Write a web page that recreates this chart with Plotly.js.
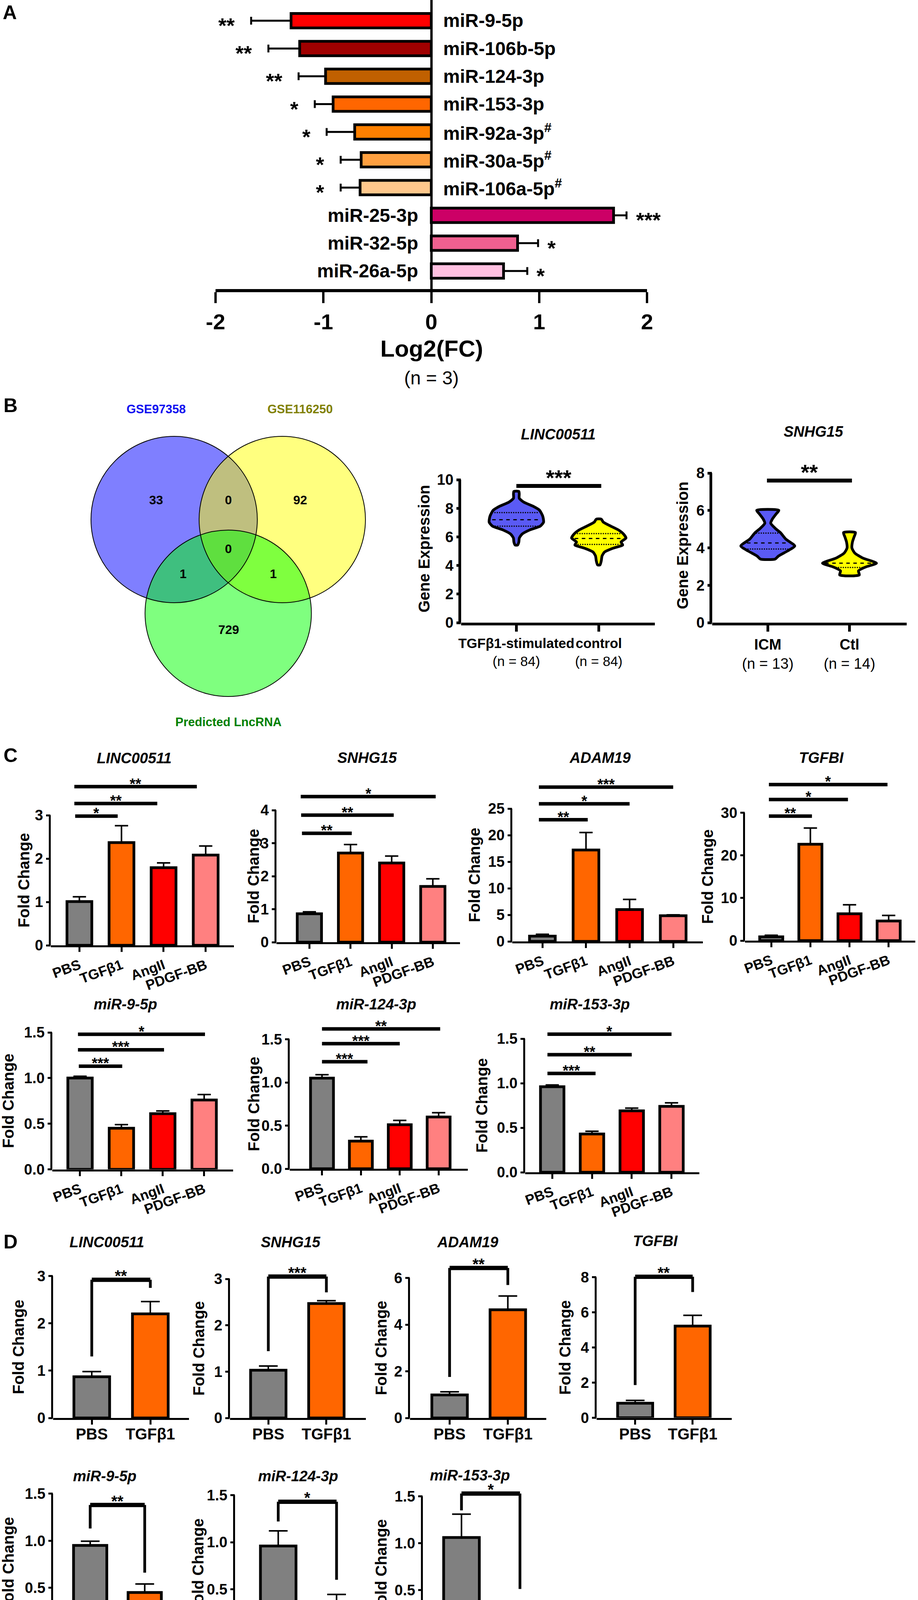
<!DOCTYPE html>
<html><head><meta charset="utf-8">
<script src="https://cdn.plot.ly/plotly-3.0.1.min.js"></script>
<style>html,body{margin:0;padding:0;background:#fff;overflow:hidden}</style>
</head><body><div id="chart" style="width:2351px;height:4261px"></div>
<script>
// ================= DATA =================
// Panel A : miRNA log2 fold change (n = 3)
const aLabels = ['miR-9-5p','miR-106b-5p','miR-124-3p','miR-153-3p','miR-92a-3p<sup>#</sup>','miR-30a-5p<sup>#</sup>','miR-106a-5p<sup>#</sup>','miR-25-3p','miR-32-5p','miR-26a-5p'];
const aLog2FC = [-1.30,-1.22,-0.98,-0.91,-0.71,-0.65,-0.66,1.69,0.80,0.67];
const aSEM    = [0.37,0.29,0.25,0.17,0.26,0.19,0.18,0.12,0.19,0.22];
const aSig    = ['**','**','**','*','*','*','*','***','*','*'];
const aTicks  = [-2,-1,0,1,2];
const aTickText = ['-2','-1','0','1','2'];

// Panel B : Venn
const vennSets    = ['GSE97358','GSE116250','Predicted LncRNA'];
const vennRegions = ['1','2','3','1&2','1&3','2&3','1&2&3'];
const vennCounts  = [33, 92, 729, 0, 1, 1, 0];

// Panel B : violins (outline profiles: value, half width)
const bLincCats = ['TGFβ1-stimulated','control'];
const bLincN    = [84, 84];
const bLincTgfY = [9.18,9.0,8.7,8.43,8.15,7.87,7.45,7.03,6.75,6.48,6.2,5.92,5.64,5.43];
const bLincTgfW = [0.03,0.035,0.035,0.09,0.2,0.28,0.32,0.33,0.29,0.16,0.07,0.036,0.03,0.015];
const bLincCtlY = [7.24,7.03,6.75,6.48,6.2,5.92,5.64,5.43,5.22,4.94,4.67,4.32,4.04];
const bLincCtlW = [0.03,0.055,0.145,0.24,0.3,0.33,0.27,0.29,0.18,0.07,0.04,0.03,0.015];
const bLincQuart = [[6.75,7.20,7.70],[5.47,5.89,6.23]];
const bLincSig = '***';
const bSnhgCats = ['ICM','Ctl'];
const bSnhgN    = [13, 14];
const bSnhgIcmY = [6.01,5.8,5.53,5.32,5.05,4.79,4.47,4.10,3.83,3.56,3.40];
const bSnhgIcmW = [0.135,0.1,0.055,0.036,0.09,0.16,0.22,0.33,0.24,0.13,0.09];
const bSnhgCtlY = [4.82,4.57,4.31,3.99,3.72,3.46,3.18,2.98,2.77,2.55];
const bSnhgCtlW = [0.073,0.055,0.036,0.03,0.065,0.16,0.33,0.2,0.11,0.12];
const bSnhgQuart = [[3.94,4.26,4.79],[2.95,3.18,null]];
const bSnhgSig = '**';

// Panel C : four stimuli
const cGroups = ['PBS','TGFβ1','AngII','PDGF-BB'];
const cLincVals = [1.01,2.37,1.79,2.08],  cLincSem = [0.11,0.39,0.11,0.21];
const cLincSig  = ['*','**','**'],        cLincSigY = [2.98,3.27,3.66];
const cSnhgVals = [0.86,2.70,2.40,1.69],  cSnhgSem = [0.06,0.26,0.21,0.23];
const cSnhgSig  = ['**','**','*'],        cSnhgSigY = [3.30,3.85,4.41];
const cAdamVals = [1.0,17.2,6.0,4.84],    cAdamSem = [0.35,3.3,1.9,0.16];
const cAdamSig  = ['**','*','***'],       cAdamSigY = [22.9,25.9,29.05];
const cTgfbiVals= [0.9,22.6,6.3,4.6],     cTgfbiSem= [0.35,3.8,2.1,1.3];
const cTgfbiSig = ['**','*','*'],         cTgfbiSigY= [29.2,33.1,36.6];
const cMir9Vals = [1.0,0.45,0.61,0.76],   cMir9Sem = [0.02,0.04,0.03,0.06];
const cMir9Sig  = ['***','***','*'],      cMir9SigY = [1.13,1.31,1.48];
const cMir124Vals=[1.05,0.32,0.51,0.60],  cMir124Sem=[0.04,0.05,0.05,0.05];
const cMir124Sig= ['***','***','**'],     cMir124SigY=[1.24,1.45,1.62];
const cMir153Vals=[0.96,0.43,0.69,0.74],  cMir153Sem=[0.02,0.03,0.03,0.04];
const cMir153Sig= ['***','**','*'],       cMir153SigY=[1.11,1.32,1.55];

// Panel D : PBS vs TGFβ1
const dGroups = ['PBS','TGFβ1'];
const dLincVals=[0.87,2.20],  dLincSem=[0.11,0.26],  dLincBr=[1.30,2.92,2.75],  dLincSig='**';
const dSnhgVals=[1.03,2.47],  dSnhgSem=[0.09,0.06],  dSnhgBr=[1.44,3.05,2.71],  dSnhgSig='***';
const dAdamVals=[0.99,4.64],  dAdamSem=[0.13,0.59],  dAdamBr=[1.76,6.43,5.70],  dAdamSig='**';
const dTgfbiVals=[0.83,5.22], dTgfbiSem=[0.16,0.61], dTgfbiBr=[1.86,8.03,7.16], dTgfbiSig='**';
const dMir9Vals=[0.95,0.45],  dMir9Sem=[0.045,0.09], dMir9Br=[1.13,1.38,0.66],  dMir9Sig='**';
const dMir124Vals=[0.96,0.36],dMir124Sem=[0.16,0.085],dMir124Br=[1.22,1.43,0.60],dMir124Sig='*';
const dMir153Vals=[1.06,0.29],dMir153Sem=[0.25,0.05],dMir153Br=[1.35,1.53,0.51],dMir153Sig='*';

// ================= STYLE / LAYOUT =================
const W=2351, H=4261;
const FONT='Liberation Sans, Arial, Helvetica, sans-serif';
const aColors=['#FF0000','#A00000','#C06000','#FF6600','#FF8000','#FFA040','#FFC88C','#CC0066','#F06090','#FFC0E0'];
const cColors=['#808080','#FF6600','#FF0000','#FF8080'];
const dColors=['#808080','#FF6600'];
const vColors=['#5A5AF5','#FFFF00'];

const traces=[], shapes=[], annotations=[];
const layout={width:W,height:H,margin:{l:0,r:0,t:0,b:0},paper_bgcolor:'#fff',plot_bgcolor:'rgba(0,0,0,0)',
  showlegend:false,font:{family:FONT,color:'#000'},shapes,annotations};
const fx=p=>p/W, fy=p=>1-p/H;
const ax=n=>n===1?'':String(n);
function note(text,x,y,size,o={}){
  annotations.push({text,x:fx(x),y:fy(y),xref:'paper',yref:'paper',showarrow:false,
    xanchor:o.xanchor||'center',yanchor:o.yanchor||'middle',textangle:o.angle||0,
    font:{family:FONT,size,color:o.color||'#000',weight:o.weight||'bold',style:o.style||'normal'}});
}

function setAxes(n,b,o){
  const id=ax(n);
  const ppu=(b.zeroY-b.topY)/b.ymax;
  const top=b.zeroY-b.ext*ppu;
  const tv=[]; for(let k=0;k*b.dtick<=b.ymax+1e-9;k++) tv.push(+(k*b.dtick).toFixed(4));
  layout['xaxis'+id]={domain:[fx(b.left),fx(b.right)],range:[b.xlo,b.xhi],anchor:'y'+id,
    showline:true,linewidth:o.lw,linecolor:'#000',ticks:'outside',ticklen:o.xticklen,tickwidth:o.lw,tickcolor:'#000',
    tickvals:o.ticktext.map((_,i)=>i),ticktext:o.ticktext,tickangle:o.angle||0,ticklabelstandoff:o.standoff||0,
    tickfont:{family:FONT,size:o.xfont,weight:o.xweight||'bold',color:'#000'},showgrid:false,zeroline:false};
  layout['yaxis'+id]={domain:[fy(b.zeroY),fy(top)],range:[0,b.ext],anchor:'x'+id,showline:false,
    ticks:'outside',ticklen:11,tickwidth:o.lw,tickcolor:'#000',tickvals:tv,tickformat:b.fmt||'',
    tickfont:{family:FONT,size:38,weight:'bold',color:'#000'},showgrid:false,zeroline:false};
  shapes.push({type:'line',xref:'paper',yref:'y'+id,x0:fx(b.left)-o.lw/2/W,x1:fx(b.left)-o.lw/2/W,y0:0,y1:b.ymax,
    line:{color:'#000',width:o.lw}});
}

// ---------- Panel A ----------
(function(){
  const idx=aLabels.map((_,i)=>i);
  layout.xaxis={domain:[fx(552),fx(1657)],range:[-2,2],anchor:'y',tickvals:aTicks,ticktext:aTickText,
    ticks:'outside',ticklen:28,tickwidth:6,tickcolor:'#000',showline:true,linewidth:8,linecolor:'#000',
    zeroline:true,zerolinecolor:'#000',zerolinewidth:6,showgrid:false,
    tickfont:{family:FONT,size:56,weight:'bold',color:'#000'}};
  layout.yaxis={domain:[fy(740),1],range:[9.65,-0.744],anchor:'x',visible:false};
  traces.push({type:'bar',orientation:'h',x:aLog2FC,y:idx,width:0.52,xaxis:'x',yaxis:'y',
    marker:{color:aColors,line:{color:'#000',width:7}},
    error_x:{type:'data',symmetric:false,array:aLog2FC.map((v,i)=>v>0?aSEM[i]:0),
      arrayminus:aLog2FC.map((v,i)=>v<0?aSEM[i]:0),color:'#000',thickness:5,width:10}});
  aLabels.forEach((lab,i)=>{
    const neg=aLog2FC[i]<0;
    annotations.push({text:lab,x:0,y:i,xref:'x',yref:'y',showarrow:false,xanchor:neg?'left':'right',
      xshift:neg?28:-32,yanchor:'middle',font:{family:FONT,size:48,weight:'bold',color:'#000'}});
    const end=aLog2FC[i]+(neg?-aSEM[i]:aSEM[i]);
    annotations.push({text:aSig[i],x:end,y:i,xref:'x',yref:'y',showarrow:false,xanchor:neg?'right':'left',
      xshift:neg?-40:22,yanchor:'middle',yshift:-12,font:{family:FONT,size:54,weight:'bold',color:'#000'}});
  });
  note('Log2(FC)',1105,893,60);
  note('(n = 3)',1105,968,48,{weight:'normal'});
  note('A',25,32,50);
})();

// ---------- Panel B : Venn ----------
(function(){
  const R=213, cx=446, cy=1330;
  layout.xaxis2={domain:[fx(100),fx(1100)],range:[(100-cx)/R,(1100-cx)/R],anchor:'y2',visible:false};
  layout.yaxis2={domain:[fy(1900),fy(1020)],range:[(cy-1900)/R,(cy-1020)/R],anchor:'x2',visible:false};
  const centers=[[0,0],[1.30,0],[0.65,-1.127]];
  const fills=['rgba(0,0,255,0.5)','rgba(255,255,0,0.5)','rgba(0,255,0,0.5)'];
  centers.forEach((c,i)=>shapes.push({type:'circle',xref:'x2',yref:'y2',x0:c[0]-1,x1:c[0]+1,y0:c[1]-1,y1:c[1]+1,
    fillcolor:fills[i],line:{width:0},layer:'below'}));
  centers.forEach((c,i)=>shapes.push({type:'circle',xref:'x2',yref:'y2',x0:c[0]-1,x1:c[0]+1,y0:c[1]-1,y1:c[1]+1,
    fillcolor:'rgba(0,0,0,0)',line:{color:'#000',width:2},layer:'below'}));
  const regionPos={'1':[-0.216,0.235],'2':[1.516,0.235],'3':[0.653,-1.324],'1&2':[0.653,0.235],
    '1&3':[0.108,-0.653],'2&3':[1.192,-0.653],'1&2&3':[0.653,-0.352]};
  vennRegions.forEach((r,i)=>annotations.push({text:String(vennCounts[i]),x:regionPos[r][0],y:regionPos[r][1],
    xref:'x2',yref:'y2',showarrow:false,font:{family:FONT,size:32,weight:'bold',color:'#000'}}));
  const labPos=[[-0.216,1.324],[1.516,1.324],[0.653,-2.432]], labCol=['#1010F0','#808000','#008000'];
  vennSets.forEach((s,i)=>annotations.push({text:s,x:labPos[i][0],y:labPos[i][1],xref:'x2',yref:'y2',showarrow:false,
    font:{family:FONT,size:31,weight:'bold',color:labCol[i]}}));
  note('B',27,1038,50);
})();

// ---------- Panel B : violins ----------
function interp(ys,ws,y){
  for(let k=0;k<ys.length-1;k++){
    const a=ys[k],b=ys[k+1];
    if((y<=a&&y>=b)||(y>=a&&y<=b)){const t=(y-a)/(b-a);return ws[k]+t*(ws[k+1]-ws[k]);}
  }
  return 0;
}
function violinPanel(n,cfg){
  const id=ax(n);
  setAxes(n,cfg.box,{lw:7,xticklen:16,xfont:cfg.xfont,xweight:'normal',
    ticktext:cfg.cats.map((c,i)=>'<b>'+c+'</b><br>(n = '+cfg.nobs[i]+')')});
  cfg.profiles.forEach((p,i)=>{
    const xs=[],ys=[];
    p.y.forEach((y,k)=>{xs.push(i+p.w[k]);ys.push(y);});
    for(let k=p.y.length-1;k>=0;k--){xs.push(i-p.w[k]);ys.push(p.y[k]);}
    xs.push(xs[0]);ys.push(ys[0]);
    traces.push({type:'scatter',mode:'lines',x:xs,y:ys,fill:'toself',fillcolor:vColors[i],
      line:{color:'#000',width:7,shape:'spline',smoothing:0.6},xaxis:'x'+id,yaxis:'y'+id});
    [0,2,1].forEach(k=>{
      const q=cfg.quart[i][k]; if(q==null) return;
      const w=interp(p.y,p.w,q)*0.9;
      traces.push({type:'scatter',mode:'lines',x:[i-w,i+w],y:[q,q],xaxis:'x'+id,yaxis:'y'+id,
        line:{color:'#000',width:3,dash:k===1?'dash':'dot'}});
    });
  });
  traces.push({type:'scatter',mode:'lines',x:cfg.sigX,y:[cfg.sigY,cfg.sigY],xaxis:'x'+id,yaxis:'y'+id,
    line:{color:'#000',width:10}});
  annotations.push({text:cfg.sig,x:(cfg.sigX[0]+cfg.sigX[1])/2,y:cfg.sigY,xref:'x'+id,yref:'y'+id,showarrow:false,
    yanchor:'bottom',yshift:-12,font:{family:FONT,size:56,weight:'bold',color:'#000'}});
  note(cfg.title,cfg.titleXY[0],cfg.titleXY[1],38,{style:'italic'});
  const b=cfg.box;
  note('Gene Expression',b.left-cfg.ytdx,(b.zeroY+b.topY)/2-6,40,{angle:-90});
}
violinPanel(3,{title:'LINC00511',titleXY:[1430,1112],cats:bLincCats,nobs:bLincN,xfont:35,
  profiles:[{y:bLincTgfY,w:bLincTgfW},{y:bLincCtlY,w:bLincCtlW}],quart:bLincQuart,sig:bLincSig,
  sigX:[0,1.03],sigY:9.56,ytdx:95,
  box:{left:1181,right:1677,zeroY:1594,topY:1228,ymax:10,dtick:2,ext:11.3,xlo:-0.67,xhi:1.68}});
violinPanel(4,{title:'SNHG15',titleXY:[2083,1105],cats:bSnhgCats,nobs:bSnhgN,xfont:38,
  profiles:[{y:bSnhgIcmY,w:bSnhgIcmW},{y:bSnhgCtlY,w:bSnhgCtlW}],quart:bSnhgQuart,sig:bSnhgSig,
  sigX:[-0.01,1.03],sigY:7.6,ytdx:77,
  box:{left:1824,right:2322,zeroY:1594,topY:1211,ymax:8,dtick:2,ext:9.0,xlo:-0.68,xhi:1.7}});

// ---------- Panel C ----------
function cPanel(n,cfg){
  const id=ax(n);
  setAxes(n,cfg.box,{lw:5,xticklen:12,xfont:36,angle:-20,ticktext:cGroups});
  traces.push({type:'bar',x:cGroups.map((_,i)=>i),y:cfg.vals,xaxis:'x'+id,yaxis:'y'+id,width:0.59,
    marker:{color:cColors,line:{color:'#000',width:7}},
    error_y:{type:'data',symmetric:false,array:cfg.sem,arrayminus:cfg.sem.map(()=>0),color:'#000',thickness:4,width:17}});
  cfg.sig.forEach((s,k)=>{
    const x0=cfg.sigX[k][0],x1=cfg.sigX[k][1],y=cfg.sigY[k];
    traces.push({type:'scatter',mode:'lines',x:[x0,x1],y:[y,y],xaxis:'x'+id,yaxis:'y'+id,line:{color:'#000',width:9}});
    annotations.push({text:s,x:(x0+x1)/2,y,xref:'x'+id,yref:'y'+id,showarrow:false,yanchor:'bottom',yshift:-16,
      font:{family:FONT,size:38,weight:'bold',color:'#000'}});
  });
  note(cfg.title,cfg.titleXY[0],cfg.titleXY[1],38,{style:'italic'});
  const b=cfg.box;
  note('Fold Change',b.left-cfg.ytdx,(b.zeroY+b.topY)/2,40,{angle:-90});
}
cPanel(5,{title:'LINC00511',titleXY:[344,1941],vals:cLincVals,sem:cLincSem,sig:cLincSig,sigY:cLincSigY,
  sigX:[[-0.1,0.91],[-0.12,1.85],[-0.12,2.79]],ytdx:70,
  box:{left:130,right:599,zeroY:2420,topY:2087,ymax:3,dtick:1,ext:4.05,xlo:-0.68,xhi:3.67}});
cPanel(6,{title:'SNHG15',titleXY:[940,1940],vals:cSnhgVals,sem:cSnhgSem,sig:cSnhgSig,sigY:cSnhgSigY,
  sigX:[[-0.18,1.03],[-0.2,2.05],[-0.21,3.07]],ytdx:59,
  box:{left:708,right:1178,zeroY:2412,topY:2074,ymax:4,dtick:1,ext:4.85,xlo:-0.8,xhi:3.66}});
cPanel(7,{title:'ADAM19',titleXY:[1536,1940],vals:cAdamVals,sem:cAdamSem,sig:cAdamSig,sigY:cAdamSigY,
  sigX:[[-0.08,1.04],[-0.08,2.0],[-0.08,3.0]],ytdx:97,
  box:{left:1312,right:1800,zeroY:2410,topY:2070,ymax:25,dtick:5,ext:32,xlo:-0.69,xhi:3.68}});
cPanel(8,{title:'TGFBI',titleXY:[2103,1940],vals:cTgfbiVals,sem:cTgfbiSem,sig:cTgfbiSig,sigY:cTgfbiSigY,
  sigX:[[-0.06,1.04],[-0.06,1.96],[-0.06,2.97]],ytdx:96,
  box:{left:1908,right:2344,zeroY:2408,topY:2080.5,ymax:30,dtick:10,ext:39.5,xlo:-0.67,xhi:3.68}});
cPanel(9,{title:'miR-9-5p',titleXY:[321,2571],vals:cMir9Vals,sem:cMir9Sem,sig:cMir9Sig,sigY:cMir9SigY,
  sigX:[[-0.03,1.02],[-0.05,2.03],[-0.05,3.02]],ytdx:113,
  box:{left:134,right:597,zeroY:2993.5,topY:2643,ymax:1.5,dtick:0.5,fmt:'.1f',ext:1.66,xlo:-0.67,xhi:3.7}});
cPanel(10,{title:'miR-124-3p',titleXY:[963,2571],vals:cMir124Vals,sem:cMir124Sem,sig:cMir124Sig,sigY:cMir124SigY,
  sigX:[[0,1.17],[0,2.0],[0,3.04]],ytdx:92,
  box:{left:742,right:1198,zeroY:2992,topY:2660.6,ymax:1.5,dtick:0.5,fmt:'.1f',ext:1.8,xlo:-0.83,xhi:3.75}});
cPanel(11,{title:'miR-153-3p',titleXY:[1510,2571],vals:cMir153Vals,sem:cMir153Sem,sig:cMir153Sig,sigY:cMir153SigY,
  sigX:[[-0.12,1.09],[-0.12,2.0],[-0.12,3.0]],ytdx:111,
  box:{left:1345,right:1791,zeroY:3001,topY:2659,ymax:1.5,dtick:0.5,fmt:'.1f',ext:1.72,xlo:-0.68,xhi:3.7}});
note('C',27,1934,50);

// ---------- Panel D ----------
function dPanel(n,cfg){
  const id=ax(n);
  setAxes(n,cfg.box,{lw:5,xticklen:12,xfont:40,standoff:-10,ticktext:dGroups});
  traces.push({type:'bar',x:dGroups.map((_,i)=>i),y:cfg.vals,xaxis:'x'+id,yaxis:'y'+id,width:0.61,
    marker:{color:dColors,line:{color:'#000',width:7}},
    error_y:{type:'data',symmetric:false,array:cfg.sem,arrayminus:cfg.sem.map(()=>0),color:'#000',thickness:4,width:24}});
  const br=cfg.br;
  traces.push({type:'scatter',mode:'lines',x:[0,0],y:[br[0],br[1]],xaxis:'x'+id,yaxis:'y'+id,line:{color:'#000',width:7}});
  traces.push({type:'scatter',mode:'lines',x:[1,1],y:[br[1],br[2]],xaxis:'x'+id,yaxis:'y'+id,line:{color:'#000',width:7}});
  traces.push({type:'scatter',mode:'lines',x:[0,1],y:[br[1],br[1]],xaxis:'x'+id,yaxis:'y'+id,line:{color:'#000',width:11}});
  annotations.push({text:cfg.sig,x:0.5,y:br[1],xref:'x'+id,yref:'y'+id,showarrow:false,yanchor:'bottom',yshift:-14,
    font:{family:FONT,size:40,weight:'bold',color:'#000'}});
  note(cfg.title,cfg.titleXY[0],cfg.titleXY[1],38,{style:'italic'});
  const b=cfg.box;
  note('Fold Change',b.left-cfg.ytdx,(b.zeroY+b.topY)/2,40,{angle:-90});
}
dPanel(12,{title:'LINC00511',titleXY:[274,3180],vals:dLincVals,sem:dLincSem,br:dLincBr,sig:dLincSig,ytdx:89,
  box:{left:136,right:484,zeroY:3630,topY:3266.6,ymax:3,dtick:1,ext:3.35,xlo:-0.66,xhi:1.66}});
dPanel(13,{title:'SNHG15',titleXY:[744,3180],vals:dSnhgVals,sem:dSnhgSem,br:dSnhgBr,sig:dSnhgSig,ytdx:80,
  box:{left:589,right:937,zeroY:3630,topY:3274,ymax:3,dtick:1,ext:3.4,xlo:-0.66,xhi:1.68}});
dPanel(14,{title:'ADAM19',titleXY:[1197,3180],vals:dAdamVals,sem:dAdamSem,br:dAdamBr,sig:dAdamSig,ytdx:74,
  box:{left:1050,right:1399,zeroY:3630,topY:3271.7,ymax:6,dtick:2,ext:7.2,xlo:-0.68,xhi:1.66}});
dPanel(15,{title:'TGFBI',titleXY:[1678,3177],vals:dTgfbiVals,sem:dTgfbiSem,br:dTgfbiBr,sig:dTgfbiSig,ytdx:81,
  box:{left:1528,right:1874,zeroY:3629.5,topY:3269.8,ymax:8,dtick:2,ext:9.0,xlo:-0.67,xhi:1.68}});
dPanel(16,{title:'miR-9-5p',titleXY:[268,3779],vals:dMir9Vals,sem:dMir9Sem,br:dMir9Br,sig:dMir9Sig,ytdx:115,
  box:{left:136,right:467,zeroY:4185,topY:3823.8,ymax:1.5,dtick:0.5,fmt:'.1f',ext:1.6,xlo:-0.68,xhi:1.69}});
dPanel(17,{title:'miR-124-3p',titleXY:[763,3779],vals:dMir124Vals,sem:dMir124Sem,br:dMir124Br,sig:dMir124Sig,ytdx:95,
  box:{left:602,right:965,zeroY:4188.8,topY:3827.6,ymax:1.5,dtick:0.5,fmt:'.1f',ext:1.6,xlo:-0.74,xhi:1.69}});
dPanel(18,{title:'miR-153-3p',titleXY:[1203,3777],vals:dMir153Vals,sem:dMir153Sem,br:dMir153Br,sig:dMir153Sig,ytdx:107,
  box:{left:1083,right:1429,zeroY:4190,topY:3830.6,ymax:1.5,dtick:0.5,fmt:'.1f',ext:1.72,xlo:-0.66,xhi:1.65}});
note('D',27,3179,50);

Plotly.newPlot('chart',traces,layout,{staticPlot:true});
</script>
</body></html>
